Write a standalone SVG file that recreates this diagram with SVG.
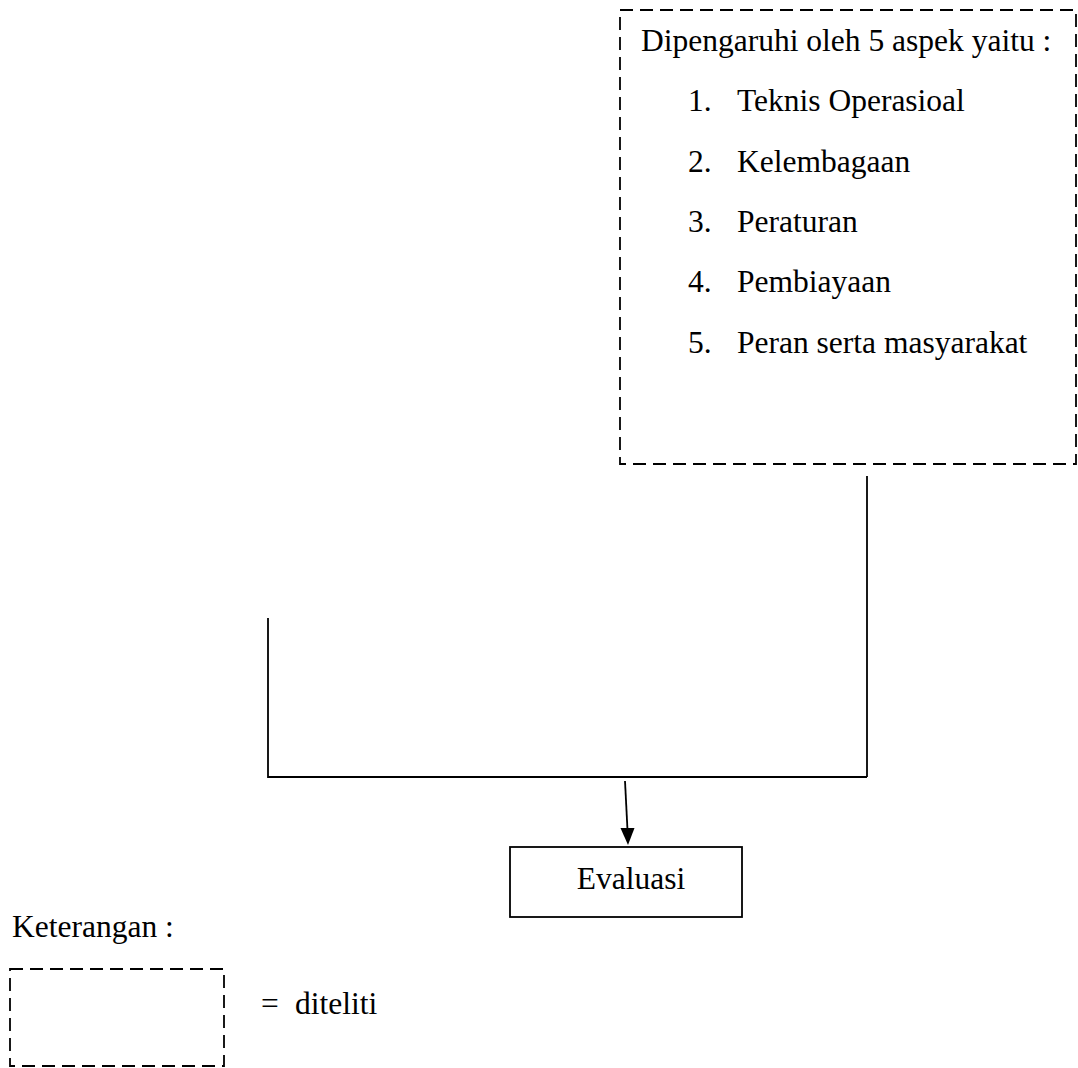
<svg xmlns="http://www.w3.org/2000/svg" width="1078" height="1068" viewBox="0 0 1078 1068">
<style>
text{font-family:"Liberation Serif","Times New Roman",serif;font-size:31.5px;fill:#000}
.dash{fill:none;stroke:#000;stroke-width:1.8;stroke-dasharray:13 7}
.ln{fill:none;stroke:#000;stroke-width:1.8}
</style>
<rect width="1078" height="1068" fill="#fff"/>
<g id="aspek">
<rect class="dash" x="620" y="10" width="456" height="454"/>
<text x="641" y="51">Dipengaruhi oleh 5 aspek yaitu :</text>
<text x="688" y="111">1.</text><text x="737" y="111">Teknis Operasioal</text>
<text x="688" y="172">2.</text><text x="737" y="172">Kelembagaan</text>
<text x="688" y="232">3.</text><text x="737" y="232">Peraturan</text>
<text x="688" y="292">4.</text><text x="737" y="292">Pembiayaan</text>
<text x="688" y="353">5.</text><text x="737" y="353">Peran serta masyarakat</text>
</g>
<g id="connectors">
<polyline class="ln" points="867,476 867,777"/>
<polyline class="ln" points="268,618 268,777 867,777"/>
<line class="ln" x1="625" y1="781" x2="627.6" y2="832"/>
<path d="M620.5,828 L634.5,828 L628,845 Z" fill="#000"/>
</g>
<g id="evaluasi">
<rect class="ln" x="510" y="847" width="232" height="70"/>
<text x="631" y="889" text-anchor="middle">Evaluasi</text>
</g>
<g id="legend">
<text x="12" y="937">Keterangan :</text>
<rect class="dash" x="10" y="969" width="214" height="97"/>
<text x="261" y="1014">=</text>
<text x="295" y="1014">diteliti</text>
</g>
</svg>
